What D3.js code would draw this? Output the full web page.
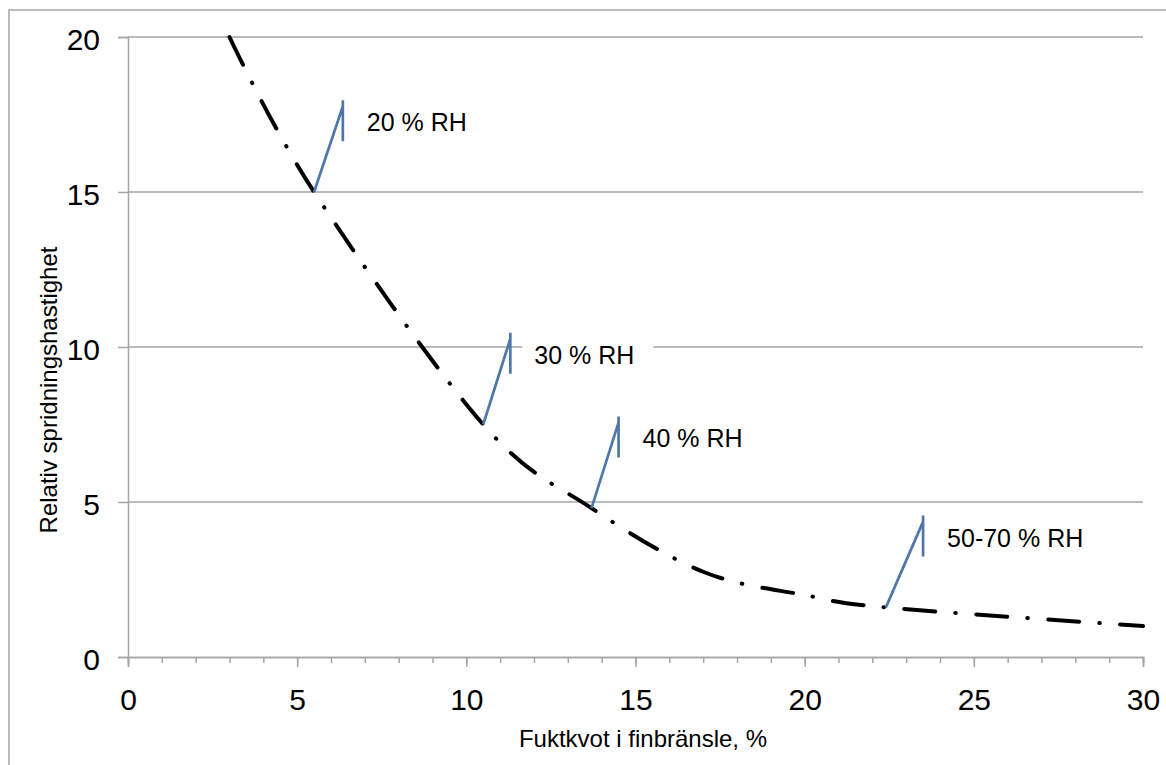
<!DOCTYPE html>
<html>
<head>
<meta charset="utf-8">
<script src="https://cdn.jsdelivr.net/npm/d3@7"></script>
<style>
  body { margin: 0; background: #fff; }
  svg { font-family: Arial, "Liberation Sans", sans-serif; }
</style>
</head>
<body>
<svg id="chart" width="1166" height="765"></svg>
<script>
// curve points
const moisture = [3, 5.5, 10.5, 13.7, 17, 20, 22.4, 30]
const spread = [20, 15, 7.5, 4.8, 2.75, 2.0, 1.6, 1.0]

// RH labels: which curve point they mark, and where the label sits
const rhLabels = ['20 % RH', '30 % RH', '40 % RH', '50-70 % RH']
const rhPoint = [1, 2, 3, 6]
const rhLabelX = [6.35, 11.3, 14.5, 23.5]
const rhLabelY = [17.3, 9.8, 7.1, 3.9]

const xTicks = [0, 5, 10, 15, 20, 25, 30]
const yTicks = [0, 5, 10, 15, 20]

const GRAY = '#a5a5a5'
const BLUE = '#4f77aa'

const svg = d3.select('#chart')

const x = d3.scaleLinear().domain([0, 30]).range([128, 1143])
const y = d3.scaleLinear().domain([0, 20]).range([657, 37])

// outer frame (runs off the picture at right and bottom)
svg.append('rect')
    .attr('x', 9).attr('y', 10)
    .attr('width', 1300).attr('height', 900)
    .attr('fill', 'none')
    .attr('stroke', GRAY)
    .attr('stroke-width', 1.5)

// gridlines
svg.append('g')
    .selectAll('line')
    .data(yTicks.filter(d => d > 0))
    .join('line')
    .attr('x1', x(0)).attr('x2', x(30))
    .attr('y1', d => y(d)).attr('y2', d => y(d))
    .attr('stroke', GRAY)
    .attr('stroke-width', 1.5)

// x axis: minor ticks every unit, major every 5
svg.append('g')
    .attr('transform', `translate(0,${y(0)})`)
    .call(d3.axisBottom(x).ticks(30).tickSize(6).tickFormat(''))
const xMajor = svg.append('g')
    .attr('transform', `translate(0,${y(0)})`)
    .call(d3.axisBottom(x).tickValues(xTicks).tickSize(10).tickFormat(d3.format('d')))
xMajor.selectAll('text')
    .attr('y', 53).attr('dy', null)
    .style('font-size', '30px')
    .attr('fill', '#000')

const yAxis = svg.append('g')
    .attr('transform', `translate(${x(0)},0)`)
    .call(d3.axisLeft(y).tickValues(yTicks).tickSize(10).tickFormat(d3.format('d')))
yAxis.selectAll('text')
    .attr('x', -28).attr('dy', '0.43em')
    .style('font-size', '30px')
    .attr('fill', '#000')

svg.selectAll('.domain, .tick line')
    .attr('stroke', GRAY)
    .attr('stroke-width', 1.5)

// the curve
const line = d3.line()
    .x(d => x(d[0]))
    .y(d => y(d[1]))
    .curve(d3.curveCardinal.tension(0))

const pts = moisture.map((m, i) => [m, spread[i]])

svg.append('path')
    .datum(pts)
    .attr('d', line)
    .attr('fill', 'none')
    .attr('stroke', '#000')
    .attr('stroke-width', 4)
    .attr('stroke-linecap', 'round')
    .attr('stroke-dasharray', '31,20,0.5,20.5')

// RH labels with leader lines
const ann = rhLabels.map((t, i) => ({
    text: t,
    px: x(pts[rhPoint[i]][0]),
    py: y(pts[rhPoint[i]][1]),
    lx: x(rhLabelX[i]),
    ly: y(rhLabelY[i])
}))

const g = svg.append('g')
ann.forEach(a => {
    const label = g.append('text')
        .attr('x', a.lx + 24)
        .attr('y', a.ly + 10.5)
        .style('font-size', '25px')
        .attr('fill', '#000')
        .text(a.text)
    const w = label.node().getComputedTextLength()
    g.insert('rect', 'text')
        .attr('x', a.lx + 12)
        .attr('y', a.ly - 20.5)
        .attr('width', w + 31)
        .attr('height', 41)
        .attr('fill', '#fff')
    g.append('path')
        .attr('d', `M${a.px},${a.py} L${a.lx},${a.ly - 14.5} M${a.lx},${a.ly - 20.5} L${a.lx},${a.ly + 20.5}`)
        .attr('fill', 'none')
        .attr('stroke', BLUE)
        .attr('stroke-width', 2.7)
})

// axis titles
svg.append('text')
    .attr('x', 643)
    .attr('y', 747)
    .attr('text-anchor', 'middle')
    .style('font-size', '24px')
    .text('Fuktkvot i finbränsle, %')

svg.append('text')
    .attr('transform', 'translate(57,390) rotate(-90)')
    .attr('text-anchor', 'middle')
    .style('font-size', '24px')
    .text('Relativ spridningshastighet')
</script>
</body>
</html>
